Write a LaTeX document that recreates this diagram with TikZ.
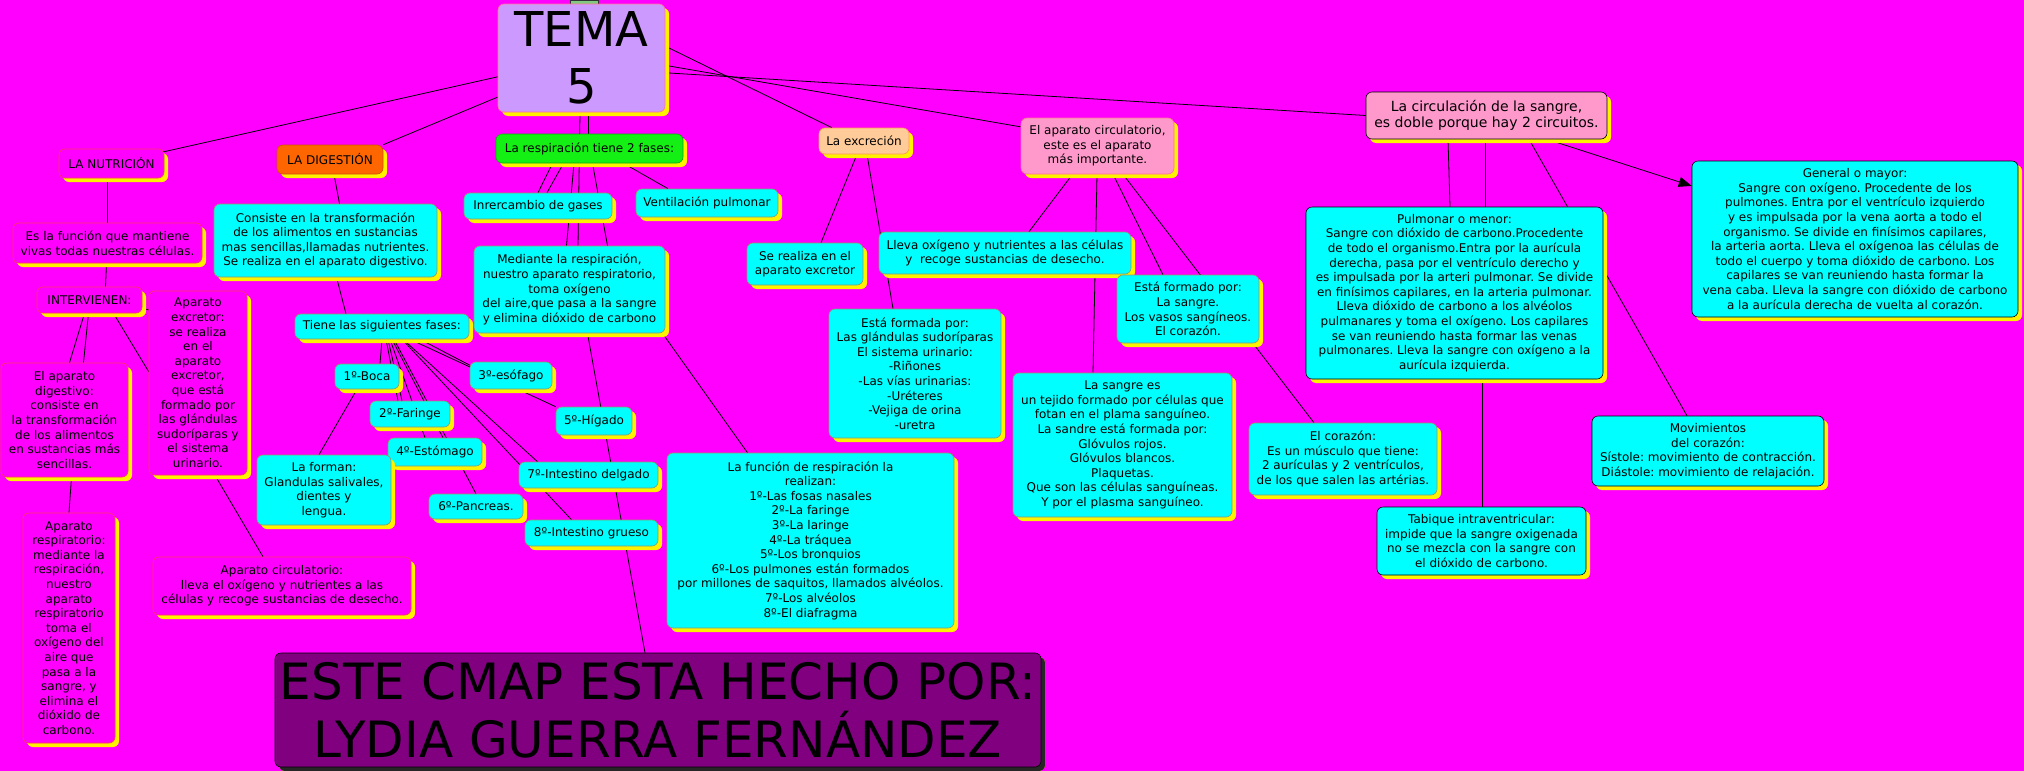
\documentclass[tikz,border=0pt]{standalone}
\usepackage{fontspec}
\setmainfont{DejaVu Sans}
\usetikzlibrary{shadows,arrows.meta}
\pgfdeclarelayer{back}
\pgfdeclarelayer{links}
\pgfsetlayers{back,links,main}
\definecolor{cmapmag}{RGB}{255,0,255}
\definecolor{pinkline}{RGB}{255,51,102}
\definecolor{olivegray}{RGB}{150,150,100}
\definecolor{cmapcyan}{RGB}{0,255,255}
\definecolor{lavender}{RGB}{204,153,255}
\definecolor{digorange}{RGB}{255,102,0}
\definecolor{resgreen}{RGB}{20,240,20}
\definecolor{peach}{RGB}{255,204,153}
\definecolor{rosa}{RGB}{255,153,204}
\definecolor{purpura}{RGB}{128,0,128}
\newcommand\cmaptext{\fontsize{12}{14.6}\selectfont\frenchspacing}
\newcommand\cmapmid{\fontsize{14}{16.7}\selectfont\frenchspacing}
\newcommand\cmapbig{\fontsize{48}{57}\selectfont}
\newcommand\cmaphuge{\fontsize{50}{58}\selectfont}
\begin{document}
\begin{tikzpicture}[x=1pt,y=-1pt,
    concept/.style={rectangle,draw,line width=.6pt,rounded corners=6pt,align=center,inner sep=2pt,font=\cmaptext,
      drop shadow={shadow xshift=4pt,shadow yshift=-4pt,fill=yellow,opacity=1}},
    magbox/.style={concept,fill=cmapmag,draw=pinkline},
    cyanbox/.style={concept,fill=cmapcyan,draw=olivegray},
    blackbox/.style={concept,fill=cmapcyan,draw=black},
    boxsize/.style 2 args={minimum width=#1pt,minimum height=#2pt},
    link/.style={line width=.8pt,black}]
    \useasboundingbox (0,0) rectangle (2024,771);
    \begin{pgfonlayer}{back}
      \fill[cmapmag] (0,0) rectangle (2024,771);
    \end{pgfonlayer}
    \draw[fill=gray!60!green!70,draw=gray!40!black] (570,0) rectangle (598,4);
    \node[concept,fill=lavender,draw=pinkline!70,boxsize={167}{108},font=\cmapbig] (tema) at (581.5,58) {TEMA\\5};
    \node[magbox,boxsize={105}{29}] (nutri) at (111.5,163.5) {LA NUTRICIÓN};
    \node[magbox,boxsize={189}{40}] (funcion) at (107.5,243) {Es la función que mantiene\\vivas todas nuestras células.};
    \node[magbox,boxsize={105}{26}] (interv) at (89.5,300) {INTERVIENEN:};
    \node[magbox,boxsize={98}{184}] (excr) at (198,383) {Aparato\\excretor:\\se realiza\\en el\\aparato\\excretor,\\que está\\formado por\\las glándulas\\sudoríparas y\\el sistema\\urinario.};
    \node[magbox,boxsize={127}{114}] (digap) at (64.5,420) {El aparato\\digestivo:\\consiste en\\la transformación\\de los alimentos\\en sustancias más\\sencillas.};
    \node[magbox,boxsize={92}{230}] (resp) at (69,628) {Aparato\\respiratorio:\\mediante la\\respiración,\\nuestro\\aparato\\respiratorio\\toma el\\oxígeno del\\aire que\\pasa a la\\sangre, y\\elimina el\\dióxido de\\carbono.};
    \node[magbox,boxsize={258}{58}] (circap) at (282,586) {Aparato circulatorio:\\lleva el oxígeno y nutrientes a las\\células y recoge sustancias de desecho.};
    \node[concept,fill=digorange,draw=digorange!80!black,boxsize={106}{29}] (dige) at (330,159.5) {LA DIGESTIÓN};
    \node[cyanbox,boxsize={223}{73}] (consiste) at (325.5,240.5) {Consiste en la transformación\\de los alimentos en sustancias\\mas sencillas,llamadas nutrientes.\\Se realiza en el aparato digestivo.};
    \node[cyanbox,boxsize={174}{25}] (fases) at (382,326.5) {Tiene las siguientes fases:};
    \node[cyanbox,boxsize={64}{25}] (boca) at (367,376.5) {1º-Boca};
    \node[cyanbox,boxsize={80}{26}] (faringe) at (410,414) {2º-Faringe};
    \node[cyanbox,boxsize={82}{27}] (esofago) at (511,375.5) {3º-esófago};
    \node[cyanbox,boxsize={94}{28}] (estomago) at (435,452) {4º-Estómago};
    \node[cyanbox,boxsize={76}{28}] (higado) at (594,421) {5º-Hígado};
    \node[cyanbox,boxsize={94}{25}] (pancreas) at (476,506.5) {6º-Pancreas.};
    \node[cyanbox,boxsize={139}{26}] (delgado) at (588.5,475) {7º-Intestino delgado};
    \node[cyanbox,boxsize={133}{26}] (grueso) at (591.5,533) {8º-Intestino grueso};
    \node[cyanbox,boxsize={134}{70}] (forman) at (324,490) {La forman:\\Glandulas salivales,\\dientes y\\lengua.};
    \node[concept,fill=resgreen,draw=resgreen!70!black,boxsize={187}{29}] (resp2) at (589.5,148.5) {La respiración tiene 2 fases:};
    \node[cyanbox,boxsize={148}{26}] (interc) at (538,206) {Inrercambio de gases};
    \node[cyanbox,boxsize={142}{28}] (ventil) at (707,203) {Ventilación pulmonar};
    \node[cyanbox,boxsize={191}{87}] (mediante) at (569.5,289.5) {Mediante la respiración,\\nuestro aparato respiratorio,\\toma oxígeno\\del aire,que pasa a la sangre\\y elimina dióxido de carbono};
    \node[cyanbox,boxsize={287}{175}] (funresp) at (810.5,540.5) {La función de respiración la\\realizan:\\1º-Las fosas nasales\\2º-La faringe\\3º-La laringe\\4º-La tráquea\\5º-Los bronquios\\6º-Los pulmones están formados\\por millones de saquitos, llamados alvéolos.\\7º-Los alvéolos\\8º-El diafragma};
    \node[concept,fill=peach,draw=digorange!70,boxsize={90}{26}] (excrecion) at (864,141) {La excreción};
    \node[cyanbox,boxsize={116}{42}] (serealiza) at (805,264) {Se realiza en el\\aparato excretor};
    \node[cyanbox,boxsize={172}{129}] (formada) at (915,373.5) {Está formada por:\\Las glándulas sudoríparas\\El sistema urinario:\\-Riñones\\-Las vías urinarias:\\-Uréteres\\-Vejiga de orina\\-uretra};
    \node[concept,fill=rosa,draw=pinkline!70,boxsize={153}{56}] (circ) at (1097.5,146) {El aparato circulatorio,\\este es el aparato\\más importante.};
    \node[cyanbox,boxsize={252}{42}] (lleva) at (1005,253) {Lleva oxígeno y nutrientes a las células\\y\ \ recoge sustancias de desecho.};
    \node[cyanbox,boxsize={219}{144}] (sangre) at (1122.5,445) {La sangre es\\un tejido formado por células que\\fotan en el plama sanguíneo.\\La sandre está formada por:\\Glóvulos rojos.\\Glóvulos blancos.\\Plaquetas.\\Que son las células sanguíneas.\\Y por el plasma sanguíneo.};
    \node[cyanbox,boxsize={142}{68}] (formado) at (1188,309) {Está formado por:\\La sangre.\\Los vasos sangíneos.\\El corazón.};
    \node[cyanbox,boxsize={188}{72}] (corazon) at (1343,459) {El corazón:\\Es un músculo que tiene:\\2 aurículas y 2 ventrículos,\\de los que salen las artérias.};
    \node[concept,fill=rosa,draw=black,boxsize={241}{47},font=\cmapmid] (circul) at (1486.5,115.5) {La circulación de la sangre,\\es doble porque hay 2 circuitos.};
    \node[blackbox,boxsize={297}{172}] (pulmonar) at (1454.5,293) {Pulmonar o menor:\\Sangre con dióxido de carbono.Procedente\\de todo el organismo.Entra por la aurícula\\derecha, pasa por el ventrículo derecho y\\es impulsada por la arteri pulmonar. Se divide\\en finísimos capilares, en la arteria pulmonar.\\Lleva dióxido de carbono a los alvéolos\\pulmanares y toma el oxígeno. Los capilares\\se van reuniendo hasta formar las venas\\pulmonares. Lleva la sangre con oxígeno a la\\aurícula izquierda.};
    \node[blackbox,boxsize={326}{156}] (general) at (1855,239) {General o mayor:\\Sangre con oxígeno. Procedente de los\\pulmones. Entra por el ventrículo izquierdo\\y es impulsada por la vena aorta a todo el\\organismo. Se divide en finísimos capilares,\\la arteria aorta. Lleva el oxígenoa las células de\\todo el cuerpo y toma dióxido de carbono. Los\\capilares se van reuniendo hasta formar la\\vena caba. Lleva la sangre con dióxido de carbono\\a la aurícula derecha de vuelta al corazón.};
    \node[blackbox,boxsize={232}{70}] (movim) at (1708,451) {Movimientos\\del corazón:\\Sístole: movimiento de contracción.\\Diástole: movimiento de relajación.};
    \node[blackbox,boxsize={209}{68}] (tabique) at (1481.5,541) {Tabique intraventricular:\\impide que la sangre oxigenada\\no se mezcla con la sangre con\\el dióxido de carbono.};
    \node[concept,fill=purpura,draw=black,boxsize={766}{114},font=\cmaphuge,
      drop shadow={shadow xshift=4pt,shadow yshift=-4pt,fill=black!85,opacity=1}] (autor) at (658,710) {ESTE CMAP ESTA HECHO POR:\\LYDIA GUERRA FERNÁNDEZ};
    \begin{pgfonlayer}{links}
      \draw[link] (tema.center) -- (nutri.center);
      \draw[link] (tema.205) -- (dige.north east);
      \draw[link] ([xshift=6.5pt]tema.south) -- ([xshift=-1.5pt]resp2.north);
      \draw[link] ([xshift=-1.5pt]tema.south) -- ([xshift=8.5pt]mediante.north);
      \draw[link] (tema.8) -- ([xshift=-32pt]excrecion.north);
      \draw[link] (tema.-5) -- (circ.166);
      \draw[link] (tema.-10) -- (circul.west);
      \draw[link] ([xshift=-4pt]nutri.south) -- (funcion.north);
      \draw[link] ([xshift=-1pt]funcion.south) -- ([xshift=16pt]interv.north);
      \draw[link] ([xshift=-5pt]interv.south) -- ([xshift=5pt]digap.north);
      \draw[link] ([xshift=-1pt]interv.south) -- ([xshift=19pt]digap.north);
      \draw[link] ([xshift=24pt]interv.south) -- (excr.167);
      \draw[link] (interv.-9) -- (excr.124);
      \draw[link] ([xshift=7pt]digap.south) -- (resp.north);
      \draw[link] ([xshift=17pt]excr.south) -- ([xshift=-19pt]circap.north);
      \draw[link] ([xshift=4pt]dige.south) -- ([xshift=14pt]consiste.north);
      \draw[link] ([xshift=11pt]consiste.south) -- ([xshift=-36pt]fases.north);
      \draw[link] (fases.south) -- ([xshift=13pt]boca.north);
      \draw[link] ([xshift=4pt]fases.south) -- ([xshift=-12pt]faringe.north);
      \draw[link] ([xshift=6pt]fases.south) -- ([xshift=-8pt]faringe.north);
      \draw[link] ([xshift=8pt]fases.south) -- ([xshift=-10pt]estomago.north);
      \draw[link] ([xshift=10pt]fases.south) -- ([xshift=8pt]estomago.north);
      \draw[link] ([xshift=12pt]fases.south) -- (pancreas.north);
      \draw[link] ([xshift=21pt]fases.south) -- ([xshift=-51pt]delgado.north);
      \draw[link] ([xshift=20pt]fases.south) -- ([xshift=-20pt]grueso.north);
      \draw[link] ([xshift=38pt]fases.south) -- (esofago.166);
      \draw[link] ([xshift=28pt]fases.south) -- (higado.north west);
      \draw[link] ([xshift=-10pt]boca.south) -- ([xshift=-5pt]forman.north);
      \draw[link] ([xshift=-37pt]resp2.south) -- (interc.north);
      \draw[link] ([xshift=-26pt]resp2.south) -- ([xshift=9pt]interc.north);
      \draw[link] ([xshift=-15.5pt]resp2.south) -- ([xshift=-3pt]mediante.north);
      \draw[link] ([xshift=3pt]resp2.south) -- ([xshift=38pt]mediante.north);
      \draw[link] ([xshift=34pt]resp2.south) -- ([xshift=-39pt]ventil.north);
      \draw[link] ([xshift=93pt]mediante.south) -- ([xshift=-63pt]funresp.north);
      \draw[link] ([xshift=18pt]mediante.south) -- ([xshift=-13pt]autor.north);
      \draw[link] ([xshift=-7pt]excrecion.south) -- ([xshift=16pt]serealiza.north);
      \draw[link] ([xshift=3pt]excrecion.south) -- ([xshift=-22pt]formada.north);
      \draw[link] ([xshift=-25pt]circ.south) -- ([xshift=24pt]lleva.north);
      \draw[link] ([xshift=-0.5pt]circ.south) -- ([xshift=-29.5pt]sangre.north);
      \draw[link] ([xshift=15.5pt]circ.south) -- ([xshift=-25pt]formado.north);
      \draw[link] ([xshift=25.5pt]circ.south) -- ([xshift=-29pt]corazon.north);
      \draw[link] ([xshift=-38.5pt]circul.south) -- ([xshift=-4.5pt]pulmonar.north);
      \draw[link] ([xshift=-1.5pt]circul.south) -- ([xshift=30.5pt]pulmonar.north);
      \draw[link] ([xshift=42.5pt]circul.south) -- ([xshift=-21pt]movim.north);
      \draw[link,->,>={Triangle[length=13pt,width=10pt]}] ([xshift=60.5pt]circul.south) -- (general.162);
      \draw[link] ([xshift=27.5pt]pulmonar.south) -- ([xshift=0.5pt]tabique.north);
    \end{pgfonlayer}
\end{tikzpicture}
\end{document}
